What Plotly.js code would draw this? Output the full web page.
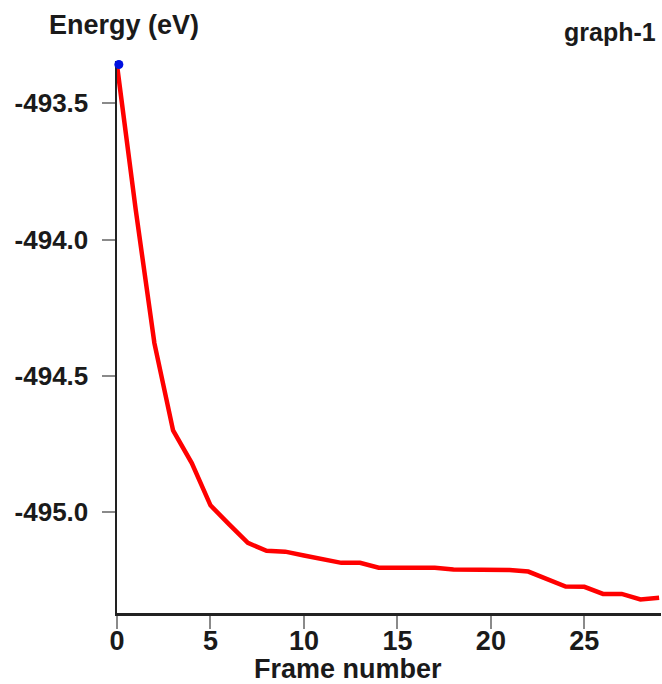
<!DOCTYPE html>
<html>
<head>
<meta charset="utf-8">
<script src="https://cdn.plot.ly/plotly-3.0.1.min.js"></script>
<style>html,body{margin:0;padding:0;background:#fff;}#chart{width:662px;height:684px;}</style>
</head>
<body>
<div id="chart"></div>
<script>
const frames = [0,1,2,3,4,5,6,7,8,9,10,11,12,13,14,15,16,17,18,19,20,21,22,23,24,25,26,27,28,29];
const energy = [-493.36,-493.89,-494.38,-494.70,-494.82,-494.975,-495.045,-495.113,-495.142,-495.145,
  -495.159,-495.172,-495.186,-495.186,-495.204,-495.204,-495.204,-495.204,-495.21,-495.21,
  -495.212,-495.212,-495.218,-495.245,-495.273,-495.274,-495.30,-495.30,-495.32,-495.314];
const currentFrame = [0.1];
const currentEnergy = [-493.358];
const xTicks = [0,5,10,15,20,25];
const yTicks = [-493.5,-494.0,-494.5,-495.0];
const yTickText = ['-493.5','-494.0','-494.5','-495.0'];

const FONT = 'Liberation Sans, Arial, sans-serif';
const data = [
  {x: frames, y: energy, type:'scatter', mode:'lines',
   line:{color:'#ff0000', width:4.5}, hoverinfo:'skip'},
  {x: currentFrame, y: currentEnergy, type:'scatter', mode:'markers',
   marker:{color:'#0010e0', size:9, line:{width:0}}, hoverinfo:'skip', cliponaxis:false}
];
const layout = {
  width:662, height:684,
  margin:{l:117, r:1, t:61, b:71},
  paper_bgcolor:'#ffffff', plot_bgcolor:'#ffffff',
  showlegend:false,
  font:{family:FONT, size:26, color:'#1a1a1a', weight:'bold'},
  xaxis:{range:[0,29.1], tickvals:xTicks, ticks:'outside', ticklen:13, tickwidth:2, tickcolor:'#8a8a8a',
    ticklabelstandoff:-11,
    showline:true, linecolor:'#222222', linewidth:2.5, showgrid:false, zeroline:false, layer:'below traces',
    tickfont:{family:FONT, size:27, color:'#1a1a1a', weight:'bold'}},
  yaxis:{range:[-495.37,-493.345], tickvals:yTicks, ticktext:yTickText, ticks:'outside', ticklen:13, tickwidth:2, tickcolor:'#8a8a8a',
    ticklabelstandoff:8,
    showline:true, linecolor:'#222222', linewidth:2.5, showgrid:false, zeroline:false, layer:'below traces',
    tickfont:{family:FONT, size:26, color:'#1a1a1a', weight:'bold'}},
  annotations:[
    {text:'Energy (eV)', xref:'paper', yref:'paper', x:0.012, y:1.066, xanchor:'center', yanchor:'middle', showarrow:false,
     font:{family:FONT, size:27, color:'#1a1a1a', weight:'bold'}},
    {text:'graph-1', xref:'paper', yref:'paper', x:0.995, y:1.052, xanchor:'right', yanchor:'middle', showarrow:false,
     font:{family:FONT, size:25, color:'#1a1a1a', weight:'bold'}},
    {text:'Frame number', xref:'paper', yref:'paper', x:0.424, y:-0.101, xanchor:'center', yanchor:'middle', showarrow:false,
     font:{family:FONT, size:27, color:'#1a1a1a', weight:'bold'}}
  ]
};
Plotly.newPlot('chart', data, layout, {displayModeBar:false, staticPlot:true});
</script>
</body>
</html>
